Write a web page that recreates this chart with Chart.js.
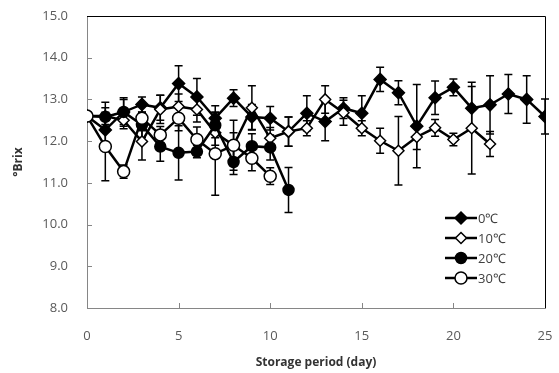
<!DOCTYPE html>
<html>
<head>
<meta charset="utf-8">
<script src="https://cdn.jsdelivr.net/npm/chart.js@4/dist/chart.umd.min.js"></script>
<style>
  body { margin: 0; background: #fff; }
  canvas { display: block; }
</style>
</head>
<body>
<canvas id="brixChart" width="559" height="373"></canvas>
<script>
// storage days
const days = [0, 1, 2, 3, 4, 5, 6, 7, 8, 9, 10, 11, 12, 13, 14, 15, 16, 17, 18, 19, 20, 21, 22, 23, 24, 25];

// °Brix means and error bars
const brix0 = [12.6, 12.27, 12.7, 12.88, 12.8, 13.38, 13.06, 12.55, 13.03, 12.58, 12.55, 12.23, 12.67, 12.47, 12.79, 12.67, 13.48, 13.16, 12.36, 13.04, 13.29, 12.79, 12.87, 13.13, 13.0, 12.59];
const err0 = [0, 0.3, 0.34, 0.18, 0.3, 0.43, 0.44, 0.3, 0.2, 0.3, 0.28, 0.35, 0.42, 0.46, 0.25, 0.42, 0.29, 0.29, 1.0, 0.4, 0.2, 0.52, 0.7, 0.47, 0.57, 0.42];

const brix10 = [12.6, 12.6, 12.5, 11.99, 12.76, 12.83, 12.76, 12.2, 11.9, 12.8, 12.07, 12.23, 12.31, 13.0, 12.68, 12.31, 12.01, 11.77, 12.1, 12.32, 12.04, 12.31, 11.93];
const err10 = [0, 0.2, 0.2, 0.44, 0.34, 0.3, 0.3, 0.3, 0.3, 0.53, 0.26, 0.35, 0.18, 0.33, 0.3, 0.18, 0.3, 0.82, 0.3, 0.2, 0.15, 1.1, 0.3];

const brix20 = [12.6, 12.58, 12.7, 12.39, 11.87, 11.72, 11.75, 12.38, 11.5, 11.88, 11.85, 10.83];
const err20 = [0, 0.35, 0.3, 0.3, 0.35, 0.65, 0.15, 0.3, 0.3, 0.3, 0.3, 0.54];

const brix30 = [12.6, 11.87, 11.27, 12.55, 12.15, 12.55, 12.04, 11.7, 11.9, 11.59, 11.16];
const err30 = [0, 0.82, 0.16, 0.3, 0.2, 0.3, 0.3, 1.0, 0.6, 0.3, 0.2];

const seriesLabels = ["0℃", "10℃", "20℃", "30℃"];
const yTicks = [8, 9, 10, 11, 12, 13, 14, 15];
const xTicks = [0, 5, 10, 15, 20, 25];

function toPoints(vals) {
  return vals.map((v, i) => ({ x: days[i], y: v }));
}

const styles = [
  { pointStyle: "rectRot", radius: 6, fill: "#000" },
  { pointStyle: "rectRot", radius: 5.5, fill: "#fff" },
  { pointStyle: "circle", radius: 5.5, fill: "#000" },
  { pointStyle: "circle", radius: 6, fill: "#fff" }
];
const allVals = [brix0, brix10, brix20, brix30];
const allErrs = [err0, err10, err20, err30];

const datasets = allVals.map((vals, k) => ({
  label: seriesLabels[k],
  data: toPoints(vals),
  errors: allErrs[k],
  borderColor: "#000",
  borderWidth: 2.5,
  pointStyle: styles[k].pointStyle,
  pointRadius: styles[k].radius,
  pointBackgroundColor: styles[k].fill,
  pointBorderColor: "#000",
  pointBorderWidth: 1.5,
  tension: 0,
  order: 3 - k
}));

// error bars behind the markers
const errorBars = {
  id: "errorBars",
  beforeDatasetsDraw(chart) {
    const ctx = chart.ctx;
    const yScale = chart.scales.y;
    ctx.save();
    ctx.strokeStyle = "#000";
    ctx.lineWidth = 1.5;
    chart.data.datasets.forEach((ds, di) => {
      const meta = chart.getDatasetMeta(di);
      meta.data.forEach((pt, i) => {
        const e = ds.errors[i];
        if (!e) return;
        const v = ds.data[i].y;
        const top = yScale.getPixelForValue(v + e);
        const bot = yScale.getPixelForValue(v - e);
        ctx.beginPath();
        ctx.moveTo(pt.x, top); ctx.lineTo(pt.x, bot);
        ctx.moveTo(pt.x - 4, top); ctx.lineTo(pt.x + 4, top);
        ctx.moveTo(pt.x - 4, bot); ctx.lineTo(pt.x + 4, bot);
        ctx.stroke();
      });
    });
    ctx.restore();
  }
};

// frame, inner tick marks and legend
const frameAndLegend = {
  id: "frameAndLegend",
  afterDraw(chart) {
    const ctx = chart.ctx;
    const area = chart.chartArea;
    const xs = chart.scales.x, ys = chart.scales.y;
    ctx.save();
    ctx.strokeStyle = "#000";
    ctx.lineWidth = 1;
    ctx.beginPath();
    ctx.moveTo(area.left, area.top + 0.5);
    ctx.lineTo(area.right + 0.5, area.top + 0.5);
    ctx.lineTo(area.right + 0.5, area.bottom);
    ctx.stroke();

    ctx.strokeStyle = "#868686";
    ctx.beginPath();
    yTicks.forEach(t => {
      if (t === 8 || t === 15) return;
      const y = Math.round(ys.getPixelForValue(t)) + 0.5;
      ctx.moveTo(area.left, y); ctx.lineTo(area.left + 5, y);
    });
    xTicks.forEach(t => {
      if (t === 0 || t === 25) return;
      const x = Math.round(xs.getPixelForValue(t)) + 0.5;
      ctx.moveTo(x, area.bottom); ctx.lineTo(x, area.bottom - 5);
    });
    ctx.stroke();

    // legend
    const lx = 445, ly = 218, gap = 20;
    chart.data.datasets.forEach((ds, k) => {
      const y = ly + k * gap;
      ctx.strokeStyle = "#000";
      ctx.lineWidth = 2.5;
      ctx.beginPath();
      ctx.moveTo(lx, y); ctx.lineTo(lx + 32, y);
      ctx.stroke();
      ctx.lineWidth = 1.5;
      ctx.fillStyle = styles[k].fill;
      ctx.beginPath();
      const cx = lx + 16, r = styles[k].radius;
      if (styles[k].pointStyle === "circle") {
        ctx.arc(cx, y, r, 0, Math.PI * 2);
      } else {
        ctx.moveTo(cx, y - r); ctx.lineTo(cx + r, y);
        ctx.lineTo(cx, y + r); ctx.lineTo(cx - r, y);
        ctx.closePath();
      }
      ctx.fill(); ctx.stroke();
      ctx.fillStyle = "#404040";
      ctx.font = "13px 'Open Sans'";
      ctx.textBaseline = "middle";
      ctx.textAlign = "left";
      ctx.fillText(ds.label, lx + 33, y + 1);
    });
    ctx.restore();
  }
};

const ctx = document.getElementById("brixChart").getContext("2d");
new Chart(ctx, {
  type: "line",
  data: { datasets: datasets },
  options: {
    responsive: false,
    animation: false,
    layout: { padding: { top: 16, right: 14, left: 0, bottom: 0 } },
    plugins: {
      legend: { display: false },
      tooltip: { enabled: false }
    },
    scales: {
      x: {
        type: "linear",
        min: 0, max: 25,
        afterFit: s => { s.height = 65; s.paddingLeft = 0; s.paddingRight = 0; },
        afterBuildTicks: s => { s.ticks = xTicks.map(v => ({ value: v })); },
        grid: { display: false, drawTicks: false },
        border: { display: true, color: "#868686", width: 1 },
        ticks: {
          padding: 20,
          color: "#595959",
          font: { family: "'Open Sans'", size: 13 },
          maxRotation: 0
        },
        title: {
          display: true,
          text: "Storage period (day)",
          color: "#333",
          font: { family: "'Open Sans'", size: 12, weight: "bold" },
          padding: { top: 0, bottom: 3 }
        }
      },
      y: {
        min: 8, max: 15,
        afterFit: s => { s.width = 87; s.paddingTop = 0; s.paddingBottom = 0; },
        afterBuildTicks: s => { s.ticks = yTicks.map(v => ({ value: v })); },
        grid: { display: false, drawTicks: false },
        border: { display: true, color: "#868686", width: 1 },
        ticks: {
          padding: 19,
          color: "#595959",
          font: { family: "'Open Sans'", size: 13 },
          callback: v => v.toFixed(1)
        },
        title: {
          display: true,
          text: "°Brix",
          color: "#333",
          font: { family: "'Open Sans'", size: 12, weight: "bold" },
          padding: { top: 11, bottom: 0 }
        }
      }
    }
  },
  plugins: [errorBars, frameAndLegend]
});
</script>
</body>
</html>
